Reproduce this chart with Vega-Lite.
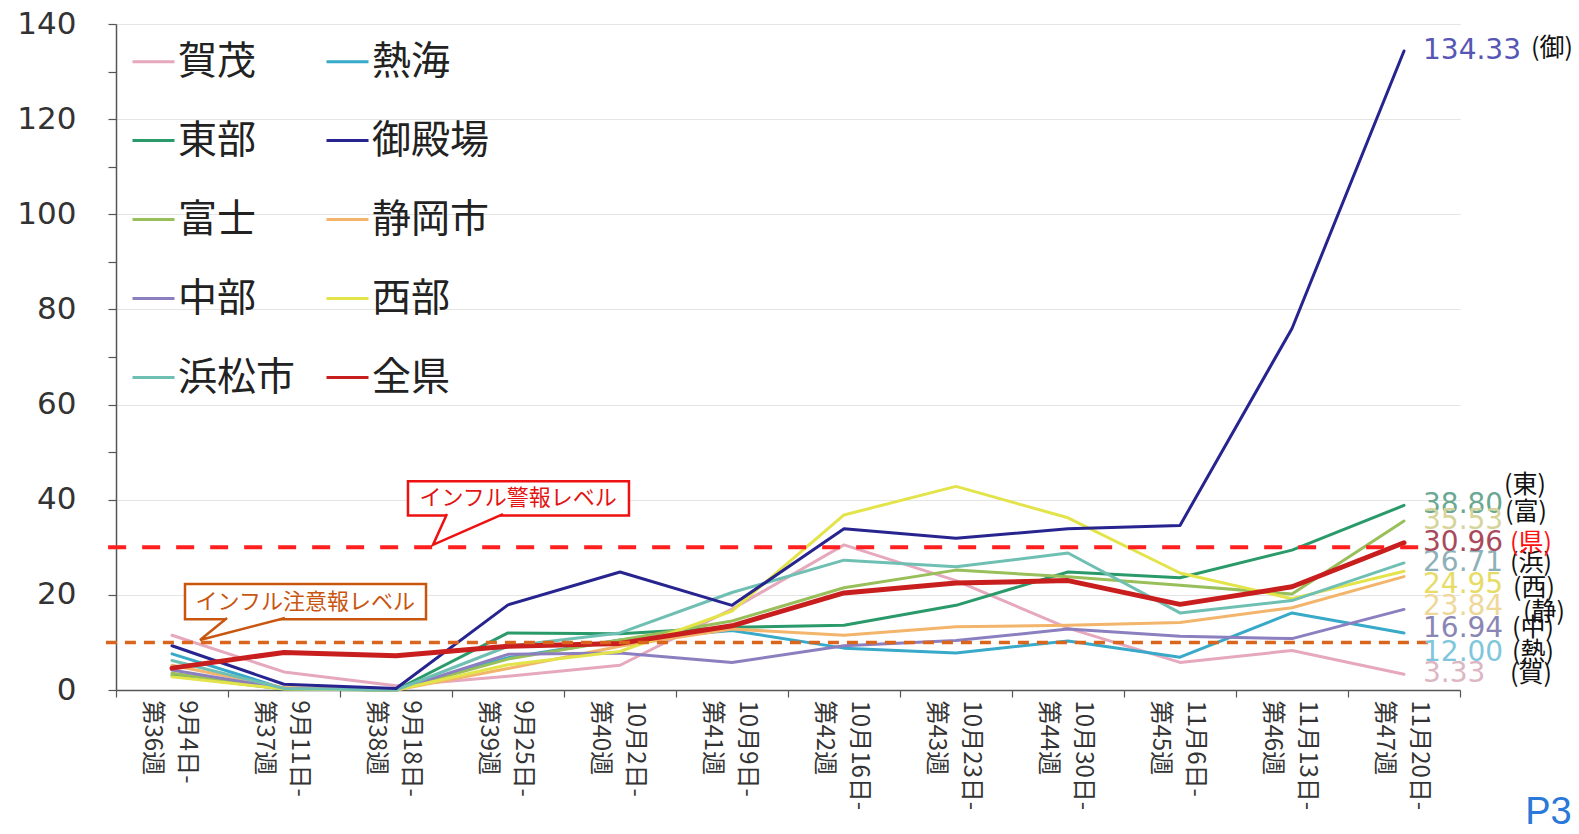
{
  "$schema": "https://vega.github.io/schema/vega-lite/v6.json",
  "width": 1344,
  "height": 666,
  "autosize": "none",
  "padding": {"left": 116, "top": 24, "right": 119, "bottom": 144},
  "background": "white",
  "config": {"view": {"stroke": null}, "font": "Noto Sans CJK JP"},
  "datasets": {
    "rates": [
      {"i":0,"area":"賀茂","v":11.5},{"i":1,"area":"賀茂","v":3.8},{"i":2,"area":"賀茂","v":0.9},{"i":3,"area":"賀茂","v":2.9},{"i":4,"area":"賀茂","v":5.2},{"i":5,"area":"賀茂","v":17.0},{"i":6,"area":"賀茂","v":30.5},{"i":7,"area":"賀茂","v":23.0},{"i":8,"area":"賀茂","v":13.0},{"i":9,"area":"賀茂","v":5.8},{"i":10,"area":"賀茂","v":8.3},{"i":11,"area":"賀茂","v":3.33},
      {"i":0,"area":"熱海","v":7.6},{"i":1,"area":"熱海","v":0.3},{"i":2,"area":"熱海","v":0.0},{"i":3,"area":"熱海","v":6.8},{"i":4,"area":"熱海","v":10.5},{"i":5,"area":"熱海","v":12.5},{"i":6,"area":"熱海","v":8.8},{"i":7,"area":"熱海","v":7.8},{"i":8,"area":"熱海","v":10.3},{"i":9,"area":"熱海","v":6.9},{"i":10,"area":"熱海","v":16.2},{"i":11,"area":"熱海","v":12.00},
      {"i":0,"area":"東部","v":3.0},{"i":1,"area":"東部","v":0.2},{"i":2,"area":"東部","v":0.0},{"i":3,"area":"東部","v":12.0},{"i":4,"area":"東部","v":11.8},{"i":5,"area":"東部","v":13.2},{"i":6,"area":"東部","v":13.6},{"i":7,"area":"東部","v":17.8},{"i":8,"area":"東部","v":24.8},{"i":9,"area":"東部","v":23.6},{"i":10,"area":"東部","v":29.4},{"i":11,"area":"東部","v":38.80},
      {"i":0,"area":"富士","v":3.5},{"i":1,"area":"富士","v":0.3},{"i":2,"area":"富士","v":0.0},{"i":3,"area":"富士","v":6.5},{"i":4,"area":"富士","v":10.5},{"i":5,"area":"富士","v":14.5},{"i":6,"area":"富士","v":21.5},{"i":7,"area":"富士","v":25.2},{"i":8,"area":"富士","v":23.8},{"i":9,"area":"富士","v":22.0},{"i":10,"area":"富士","v":20.2},{"i":11,"area":"富士","v":35.53},
      {"i":0,"area":"静岡市","v":5.2},{"i":1,"area":"静岡市","v":0.5},{"i":2,"area":"静岡市","v":0.0},{"i":3,"area":"静岡市","v":4.5},{"i":4,"area":"静岡市","v":9.2},{"i":5,"area":"静岡市","v":12.8},{"i":6,"area":"静岡市","v":11.5},{"i":7,"area":"静岡市","v":13.3},{"i":8,"area":"静岡市","v":13.6},{"i":9,"area":"静岡市","v":14.2},{"i":10,"area":"静岡市","v":17.3},{"i":11,"area":"静岡市","v":23.84},
      {"i":0,"area":"中部","v":4.2},{"i":1,"area":"中部","v":0.3},{"i":2,"area":"中部","v":0.0},{"i":3,"area":"中部","v":7.5},{"i":4,"area":"中部","v":7.8},{"i":5,"area":"中部","v":5.8},{"i":6,"area":"中部","v":9.3},{"i":7,"area":"中部","v":10.4},{"i":8,"area":"中部","v":12.8},{"i":9,"area":"中部","v":11.3},{"i":10,"area":"中部","v":10.8},{"i":11,"area":"中部","v":16.94},
      {"i":0,"area":"西部","v":2.8},{"i":1,"area":"西部","v":0.2},{"i":2,"area":"西部","v":0.0},{"i":3,"area":"西部","v":5.3},{"i":4,"area":"西部","v":8.1},{"i":5,"area":"西部","v":16.6},{"i":6,"area":"西部","v":36.8},{"i":7,"area":"西部","v":42.8},{"i":8,"area":"西部","v":36.2},{"i":9,"area":"西部","v":24.6},{"i":10,"area":"西部","v":19.2},{"i":11,"area":"西部","v":24.95},
      {"i":0,"area":"浜松市","v":6.2},{"i":1,"area":"浜松市","v":0.3},{"i":2,"area":"浜松市","v":0.0},{"i":3,"area":"浜松市","v":9.2},{"i":4,"area":"浜松市","v":12.0},{"i":5,"area":"浜松市","v":20.5},{"i":6,"area":"浜松市","v":27.3},{"i":7,"area":"浜松市","v":25.9},{"i":8,"area":"浜松市","v":28.8},{"i":9,"area":"浜松市","v":16.2},{"i":10,"area":"浜松市","v":18.8},{"i":11,"area":"浜松市","v":26.71},
      {"i":0,"area":"御殿場","v":9.3},{"i":1,"area":"御殿場","v":1.2},{"i":2,"area":"御殿場","v":0.3},{"i":3,"area":"御殿場","v":17.9},{"i":4,"area":"御殿場","v":24.8},{"i":5,"area":"御殿場","v":17.8},{"i":6,"area":"御殿場","v":33.9},{"i":7,"area":"御殿場","v":31.9},{"i":8,"area":"御殿場","v":33.9},{"i":9,"area":"御殿場","v":34.6},{"i":10,"area":"御殿場","v":76.0},{"i":11,"area":"御殿場","v":134.33},
      {"i":0,"area":"全県","v":4.6},{"i":1,"area":"全県","v":7.9},{"i":2,"area":"全県","v":7.2},{"i":3,"area":"全県","v":9.2},{"i":4,"area":"全県","v":9.8},{"i":5,"area":"全県","v":13.5},{"i":6,"area":"全県","v":20.4},{"i":7,"area":"全県","v":22.5},{"i":8,"area":"全県","v":23.0},{"i":9,"area":"全県","v":18.0},{"i":10,"area":"全県","v":21.7},{"i":11,"area":"全県","v":30.96}
    ],
    "abbr": [
      {"area":"東部","abbr":"(東)"},{"area":"富士","abbr":"(富)"},{"area":"全県","abbr":"(県)"},{"area":"浜松市","abbr":"(浜)"},{"area":"西部","abbr":"(西)"},
      {"area":"静岡市","abbr":"(静)"},{"area":"中部","abbr":"(中)"},{"area":"熱海","abbr":"(熱)"},{"area":"賀茂","abbr":"(賀)"},{"area":"御殿場","abbr":"(御)"}
    ]
  },
  "layer": [
    {
      "data": {"name": "rates"},
      "mark": {"type": "line", "strokeJoin": "round", "strokeCap": "round"},
      "encoding": {
        "x": {
          "field": "i", "type": "quantitative", "title": null,
          "scale": {"domain": [-0.5, 11.5], "nice": false, "zero": false},
          "axis": {
            "values": [-0.5,0,0.5,1,1.5,2,2.5,3,3.5,4,4.5,5,5.5,6,6.5,7,7.5,8,8.5,9,9.5,10,10.5,11,11.5],
            "labelExpr": "datum.value % 1 !== 0 ? '' : [['9月4日-','第36週'],['9月11日-','第37週'],['9月18日-','第38週'],['9月25日-','第39週'],['10月2日-','第40週'],['10月9日-','第41週'],['10月16日-','第42週'],['10月23日-','第43週'],['10月30日-','第44週'],['11月6日-','第45週'],['11月13日-','第46週'],['11月20日-','第47週']][datum.value]",
            "tickOpacity": {"condition": {"test": "datum.value % 1 !== 0", "value": 1}, "value": 0},
            "labelAngle": 90, "labelAlign": "left", "labelBaseline": "middle",
            "labelFont": "Noto Sans CJK JP", "labelFontSize": 24, "labelLineHeight": 35,
            "labelColor": "#333333", "labelPadding": 3, "labelOffset": 14, "labelOverlap": false, "labelFlush": false,
            "tickSize": 7, "tickColor": "#555555", "tickWidth": 1.2,
            "domainColor": "#555555", "domainWidth": 1.5, "grid": false
          }
        },
        "y": {
          "field": "v", "type": "quantitative", "title": null,
          "scale": {"domain": [0, 140], "nice": false},
          "axis": {
            "values": [0,10,20,30,40,50,60,70,80,90,100,110,120,130,140],
            "labelExpr": "datum.value % 20 === 0 ? datum.label : ''",
            "grid": true, "gridColor": "#e4e4e4", "gridWidth": 1.2,
            "gridOpacity": {"condition": {"test": "datum.value % 20 === 0", "value": 1}, "value": 0},
            "tickSize": 8, "tickColor": "#555555", "tickWidth": 1.2,
            "domainColor": "#555555", "domainWidth": 1.5,
            "labelFont": "DejaVu Sans", "labelFontSize": 31, "labelColor": "#333333", "labelPadding": 32
          }
        },
        "color": {
          "field": "area", "type": "nominal",
          "scale": {
            "domain": ["賀茂","東部","富士","中部","浜松市","熱海","御殿場","静岡市","西部","全県"],
            "range": ["#e6a8bd","#2a9a6a","#98bf5a","#8c7fc0","#6fbfb3","#38a9c9","#27248f","#f2b56b","#e3e34a","#c81e1e"]
          },
          "legend": {
            "title": null, "orient": "top-left", "offset": 15, "columns": 2, "padding": 0,
            "symbolType": "stroke", "symbolSize": 1764, "symbolStrokeWidth": 3,
            "labelFont": "Noto Sans CJK JP", "labelFontSize": 39, "labelColor": "#222222",
            "labelOffset": 2, "rowPadding": 36, "columnPadding": 24, "labelLimit": 300
          }
        },
        "strokeWidth": {"condition": {"test": "datum.area === '全県'", "value": 5}, "value": 3}
      }
    },
    {
      "data": {"values": [{}]},
      "mark": {"type": "rule", "color": "#ff1f1f", "strokeWidth": 4, "strokeDash": [18, 16]},
      "encoding": {"x": {"datum": -0.57}, "x2": {"datum": 11.23}, "y": {"datum": 30}}
    },
    {
      "data": {"values": [{}]},
      "mark": {"type": "rule", "color": "#d9661c", "strokeWidth": 3.5, "strokeDash": [11, 8]},
      "encoding": {"x": {"datum": -0.59}, "x2": {"datum": 11.23}, "y": {"datum": 10}}
    },
    {
      "data": {"values": [{}]},
      "mark": {"type": "rect", "fill": "white", "stroke": "#ee1111", "strokeWidth": 2.5},
      "encoding": {"x": {"datum": 2.107}, "x2": {"datum": 4.08}, "y": {"datum": 43.9}, "y2": {"datum": 36.66}}
    },
    {
      "data": {"values": [{}]},
      "mark": {"type": "point", "shape": "M0.2,-0.44L0,0L1,-0.44", "size": 19600, "filled": true, "fill": "white", "stroke": "#ee1111", "strokeWidth": 2.5, "opacity": 1},
      "encoding": {"x": {"datum": 2.33}, "y": {"datum": 30.5}}
    },
    {
      "data": {"values": [{}]},
      "mark": {"type": "text", "text": "インフル警報レベル", "font": "Noto Sans CJK JP", "fontSize": 22, "color": "#e31414", "align": "center", "baseline": "middle"},
      "encoding": {"x": {"datum": 3.09}, "y": {"datum": 40.3}}
    },
    {
      "data": {"values": [{}]},
      "mark": {"type": "rect", "fill": "white", "stroke": "#c8560f", "strokeWidth": 2.5},
      "encoding": {"x": {"datum": 0.116}, "x2": {"datum": 2.268}, "y": {"datum": 22.3}, "y2": {"datum": 14.86}}
    },
    {
      "data": {"values": [{}]},
      "mark": {"type": "point", "shape": "M0.318,-0.26L0,0L1,-0.26", "size": 28900, "filled": true, "fill": "white", "stroke": "#c8560f", "strokeWidth": 2.5, "opacity": 1},
      "encoding": {"x": {"datum": 0.25}, "y": {"datum": 10.5}}
    },
    {
      "data": {"values": [{}]},
      "mark": {"type": "text", "text": "インフル注意報レベル", "font": "Noto Sans CJK JP", "fontSize": 22, "color": "#c8560f", "align": "center", "baseline": "middle"},
      "encoding": {"x": {"datum": 1.19}, "y": {"datum": 18.6}}
    },
    {
      "data": {"name": "rates"},
      "transform": [{"filter": "datum.i === 11"}, {"filter": {"field": "area", "oneOf": ["東部","富士","全県","浜松市","賀茂","御殿場"]}}],
      "mark": {"type": "text", "align": "left", "baseline": "middle", "dx": 19, "font": "DejaVu Sans", "fontSize": 28},
      "encoding": {
        "x": {"field": "i", "type": "quantitative", "title": null},
        "y": {"field": "v", "type": "quantitative", "title": null},
        "text": {"field": "v", "type": "quantitative", "format": ".2f"},
        "fill": {"field": "area", "type": "nominal", "legend": null,
          "scale": {"domain": ["賀茂","熱海","東部","御殿場","富士","静岡市","中部","西部","浜松市","全県"],
                    "range": ["#dcb6c2","#7fc6dc","#6aa892","#5656b4","#d6d49a","#efd79a","#8a86b4","#e6dc66","#8eb0b8","#a84a5c"]}}
      }
    },
    {
      "data": {"name": "rates"},
      "transform": [{"filter": "datum.i === 11"}, {"filter": {"field": "area", "oneOf": ["西部"]}}],
      "mark": {"type": "text", "align": "left", "baseline": "middle", "dx": 19, "dy": 14, "font": "DejaVu Sans", "fontSize": 28},
      "encoding": {
        "x": {"field": "i", "type": "quantitative", "title": null},
        "y": {"field": "v", "type": "quantitative", "title": null},
        "text": {"field": "v", "type": "quantitative", "format": ".2f"},
        "fill": {"field": "area", "type": "nominal", "legend": null}
      }
    },
    {
      "data": {"name": "rates"},
      "transform": [{"filter": "datum.i === 11"}, {"filter": {"field": "area", "oneOf": ["静岡市"]}}],
      "mark": {"type": "text", "align": "left", "baseline": "middle", "dx": 19, "dy": 30, "font": "DejaVu Sans", "fontSize": 28},
      "encoding": {
        "x": {"field": "i", "type": "quantitative", "title": null},
        "y": {"field": "v", "type": "quantitative", "title": null},
        "text": {"field": "v", "type": "quantitative", "format": ".2f"},
        "fill": {"field": "area", "type": "nominal", "legend": null}
      }
    },
    {
      "data": {"name": "rates"},
      "transform": [{"filter": "datum.i === 11"}, {"filter": {"field": "area", "oneOf": ["中部","熱海"]}}],
      "mark": {"type": "text", "align": "left", "baseline": "middle", "dx": 19, "dy": 20, "font": "DejaVu Sans", "fontSize": 28},
      "encoding": {
        "x": {"field": "i", "type": "quantitative", "title": null},
        "y": {"field": "v", "type": "quantitative", "title": null},
        "text": {"field": "v", "type": "quantitative", "format": ".2f"},
        "fill": {"field": "area", "type": "nominal", "legend": null}
      }
    },
    {
      "data": {"name": "rates"},
      "transform": [{"filter": "datum.i === 11"}, {"filter": {"field": "area", "oneOf": ["全県","浜松市","賀茂"]}},
        {"lookup": "area", "from": {"data": {"name": "abbr"}, "key": "area", "fields": ["abbr"]}}],
      "mark": {"type": "text", "align": "left", "baseline": "middle", "dx": 106, "font": "Noto Sans CJK JP", "fontSize": 25},
      "encoding": {
        "x": {"field": "i", "type": "quantitative", "title": null},
        "y": {"field": "v", "type": "quantitative", "title": null},
        "text": {"field": "abbr"},
        "color": {"condition": {"test": "datum.area === '全県'", "value": "#ff1010"}, "value": "#111111"}
      }
    },
    {
      "data": {"name": "rates"},
      "transform": [{"filter": "datum.i === 11"}, {"filter": {"field": "area", "oneOf": ["御殿場"]}},
        {"lookup": "area", "from": {"data": {"name": "abbr"}, "key": "area", "fields": ["abbr"]}}],
      "mark": {"type": "text", "align": "left", "baseline": "middle", "dx": 127, "dy": -3, "font": "Noto Sans CJK JP", "fontSize": 25, "color": "#111111"},
      "encoding": {
        "x": {"field": "i", "type": "quantitative", "title": null},
        "y": {"field": "v", "type": "quantitative", "title": null},
        "text": {"field": "abbr"}
      }
    },
    {
      "data": {"name": "rates"},
      "transform": [{"filter": "datum.i === 11"}, {"filter": {"field": "area", "oneOf": ["東部"]}},
        {"lookup": "area", "from": {"data": {"name": "abbr"}, "key": "area", "fields": ["abbr"]}}],
      "mark": {"type": "text", "align": "left", "baseline": "middle", "dx": 100, "dy": -20, "font": "Noto Sans CJK JP", "fontSize": 25, "color": "#111111"},
      "encoding": {
        "x": {"field": "i", "type": "quantitative", "title": null},
        "y": {"field": "v", "type": "quantitative", "title": null},
        "text": {"field": "abbr"}
      }
    },
    {
      "data": {"name": "rates"},
      "transform": [{"filter": "datum.i === 11"}, {"filter": {"field": "area", "oneOf": ["富士"]}},
        {"lookup": "area", "from": {"data": {"name": "abbr"}, "key": "area", "fields": ["abbr"]}}],
      "mark": {"type": "text", "align": "left", "baseline": "middle", "dx": 101, "dy": -9, "font": "Noto Sans CJK JP", "fontSize": 25, "color": "#111111"},
      "encoding": {
        "x": {"field": "i", "type": "quantitative", "title": null},
        "y": {"field": "v", "type": "quantitative", "title": null},
        "text": {"field": "abbr"}
      }
    },
    {
      "data": {"name": "rates"},
      "transform": [{"filter": "datum.i === 11"}, {"filter": {"field": "area", "oneOf": ["西部"]}},
        {"lookup": "area", "from": {"data": {"name": "abbr"}, "key": "area", "fields": ["abbr"]}}],
      "mark": {"type": "text", "align": "left", "baseline": "middle", "dx": 109, "dy": 17, "font": "Noto Sans CJK JP", "fontSize": 25, "color": "#111111"},
      "encoding": {
        "x": {"field": "i", "type": "quantitative", "title": null},
        "y": {"field": "v", "type": "quantitative", "title": null},
        "text": {"field": "abbr"}
      }
    },
    {
      "data": {"name": "rates"},
      "transform": [{"filter": "datum.i === 11"}, {"filter": {"field": "area", "oneOf": ["静岡市"]}},
        {"lookup": "area", "from": {"data": {"name": "abbr"}, "key": "area", "fields": ["abbr"]}}],
      "mark": {"type": "text", "align": "left", "baseline": "middle", "dx": 119, "dy": 35, "font": "Noto Sans CJK JP", "fontSize": 25, "color": "#111111"},
      "encoding": {
        "x": {"field": "i", "type": "quantitative", "title": null},
        "y": {"field": "v", "type": "quantitative", "title": null},
        "text": {"field": "abbr"}
      }
    },
    {
      "data": {"name": "rates"},
      "transform": [{"filter": "datum.i === 11"}, {"filter": {"field": "area", "oneOf": ["中部","熱海"]}},
        {"lookup": "area", "from": {"data": {"name": "abbr"}, "key": "area", "fields": ["abbr"]}}],
      "mark": {"type": "text", "align": "left", "baseline": "middle", "dx": 108, "dy": 19, "font": "Noto Sans CJK JP", "fontSize": 25, "color": "#111111"},
      "encoding": {
        "x": {"field": "i", "type": "quantitative", "title": null},
        "y": {"field": "v", "type": "quantitative", "title": null},
        "text": {"field": "abbr"}
      }
    },
    {
      "data": {"values": [{}]},
      "mark": {"type": "text", "text": "P3", "font": "Liberation Sans", "fontSize": 38, "color": "#2a78d8", "align": "center", "baseline": "middle"},
      "encoding": {"x": {"datum": 12.29}, "y": {"datum": -25.9}}
    }
  ]
}
